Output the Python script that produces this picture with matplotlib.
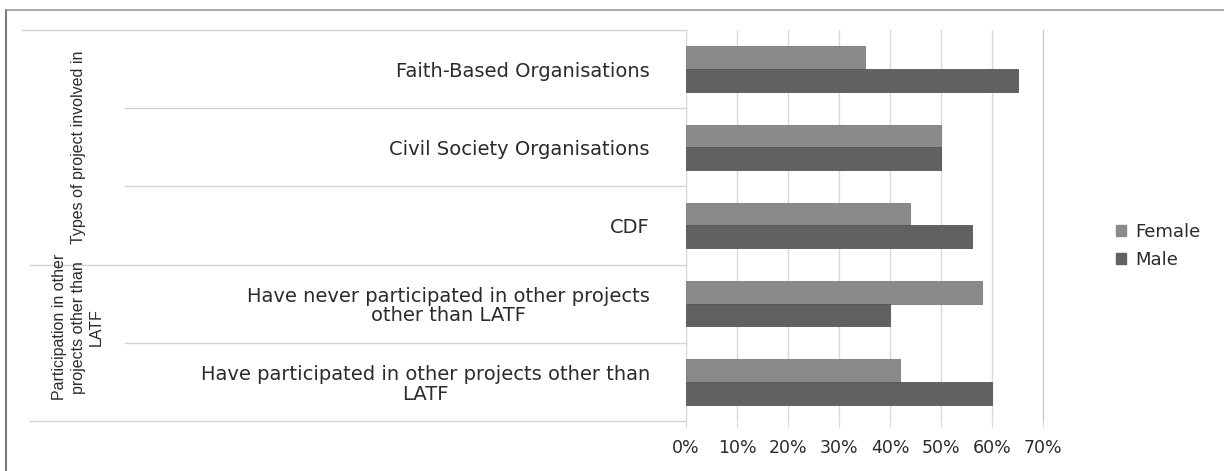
import matplotlib
matplotlib.use("Agg")
import matplotlib.pyplot as plt
from matplotlib.lines import Line2D
from matplotlib.patches import Patch
from matplotlib.transforms import blended_transform_factory
import numpy as np

# Survey results: share of respondents by gender
categories = [
    "Faith-Based Organisations",
    "Civil Society Organisations",
    "CDF",
    "Have never participated in other projects\nother than LATF",
    "Have participated in other projects other than\nLATF",
]
female = [35, 50, 44, 58, 42]
male = [65, 50, 56, 40, 60]
series_names = ["Female", "Male"]
group_labels = ["Types of project involved in",
                "Participation in other\nprojects other than\nLATF"]
group_members = [[0, 1, 2], [3, 4]]
x_ticks = [0, 10, 20, 30, 40, 50, 60, 70]

FEMALE_C = "#8a8a8a"
MALE_C = "#616161"
GRID_C = "#d9d9d9"
SEP_C = "#d4d4d4"
TEXT_C = "#2b2b2b"

W, H = 1224, 471
fig = plt.figure(figsize=(W / 100, H / 100), dpi=100)
fig.patch.set_facecolor("white")

def fx(px):
    return px / W

def fy(py):
    return 1 - py / H

ax_l, ax_r, ax_t, ax_b = 686, 1043, 30, 421
ax = fig.add_axes([fx(ax_l), fy(ax_b), fx(ax_r - ax_l), (ax_b - ax_t) / H])

y = np.arange(len(categories))
bh = 0.29
ax.barh(y - bh / 2, female, height=bh, color=FEMALE_C, edgecolor="#7a7a7a",
        linewidth=0.6, label=series_names[0], zorder=3)
ax.barh(y + bh / 2, male, height=bh, color=MALE_C, edgecolor="#555555",
        linewidth=0.6, label=series_names[1], zorder=3)

ax.set_xlim(0, 70)
ax.set_ylim(len(categories) - 0.5, -0.5)
ax.set_xticks(x_ticks)
ax.set_xticklabels([f"{t}%" for t in x_ticks], fontsize=12.5, color=TEXT_C)
ax.tick_params(axis="x", length=4, color=GRID_C, pad=9)
ax.set_yticks(y)
ax.set_yticklabels(categories, fontsize=14, color=TEXT_C)
for lbl in ax.get_yticklabels():
    lbl.set_multialignment("center")
    lbl.set_linespacing(1.05)
ax.tick_params(axis="y", length=0, pad=26)
ax.grid(axis="x", color=GRID_C, linewidth=1, zorder=0)
for side in ["top", "bottom"]:
    ax.spines[side].set_visible(False)
ax.spines["left"].set_color(GRID_C)
ax.spines["right"].set_color("#c8c8c8")

# Separator lines in the label area (figure x, data y)
tr = blended_transform_factory(fig.transFigure, ax.transData)
def hline(x0px, yval):
    ln = Line2D([fx(x0px), fx(ax_l)], [yval, yval], transform=tr,
                color=SEP_C, linewidth=1, clip_on=False)
    fig.add_artist(ln)

hline(22, -0.5)
hline(125, 0.5)
hline(125, 1.5)
hline(30, 2.5)
hline(125, 3.5)
hline(30, 4.5)

# Group labels, rotated
group_x = [78, 78]
group_y = [1.0, 3.3]
for lab, gx, gy in zip(group_labels, group_x, group_y):
    fig.text(fx(gx), gy, lab, transform=tr, rotation=90, ha="center",
             va="center", multialignment="center", fontsize=11.5,
             family="Liberation Sans", color=TEXT_C, linespacing=1.3)

# Outer frame
fig.add_artist(Line2D([fx(6), fx(6)], [fy(10), 0], transform=fig.transFigure,
                      color="#7a7a7a", linewidth=1.5))
fig.add_artist(Line2D([fx(6), 1], [fy(10), fy(10)], transform=fig.transFigure,
                      color="#9a9a9a", linewidth=1.2))

handles = [Patch(facecolor=FEMALE_C, edgecolor=FEMALE_C),
           Patch(facecolor=MALE_C, edgecolor=MALE_C)]
fig.legend(handles, series_names, loc="center left",
           bbox_to_anchor=(fx(1100), fy(246)), frameon=False,
           fontsize=13, handlelength=0.55, handleheight=0.55,
           handletextpad=0.5, labelspacing=0.55, labelcolor=TEXT_C)

fig.savefig("out.png", dpi=100, facecolor="white")
